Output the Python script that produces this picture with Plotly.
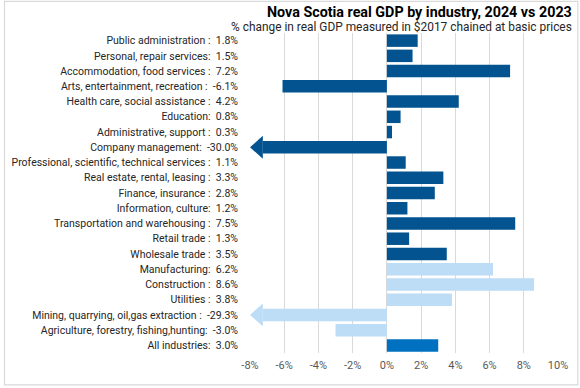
import plotly.graph_objects as go

# ---- data ----
industries = [
    "Public administration ", "Personal, repair services", "Accommodation, food services ",
    "Arts, entertainment, recreation ", "Health care, social assistance ", "Education",
    "Administrative, support ", "Company management", "Professional, scientific, technical services ",
    "Real estate, rental, leasing ", "Finance, insurance ", "Information, culture",
    "Transportation and warehousing ", "Retail trade ", "Wholesale trade ", "Manufacturing",
    "Construction ", "Utilities ", "Mining, quarrying, oil,gas extraction ",
    "Agriculture, forestry, fishing,hunting", "All industries",
]
pct_change = [1.8, 1.5, 7.2, -6.1, 4.2, 0.8, 0.3, -30.0, 1.1, 3.3, 2.8, 1.2, 7.5, 1.3, 3.5,
              6.2, 8.6, 3.8, -29.3, -3.0, 3.0]
sector = ["services"] * 15 + ["goods"] * 5 + ["total"]
x_ticks = [-8, -6, -4, -2, 0, 2, 4, 6, 8, 10]

# ---- style ----
COLORS = {"services": "#02538F", "goods": "#BDDCF6", "total": "#0070C0"}
XMIN, XMAX = x_ticks[0], x_ticks[-1]
HEAD_LEN = 0.75      # arrow head length in % units for off-scale bars
HEAD_HALF = 0.75     # arrow head half height in row units

W, H = 580, 388
L, R, T, B = 248.5, 21, 32.7, 34.9
PW, PH = W - L - R, H - T - B


def px_x(px):
    return (px - L) / PW


def px_y(py):
    return (H - B - py) / PH


n = len(industries)
idx = list(range(n))
labels = [f"{name}:  {v:.1f}%" for name, v in zip(industries, pct_change)]
shaft = [v if v >= XMIN else XMIN + HEAD_LEN for v in pct_change]
colors = [COLORS[s] for s in sector]

fig = go.Figure()
fig.add_trace(go.Bar(
    x=shaft, y=idx, orientation="h",
    marker=dict(color=colors, line=dict(width=0)),
    width=0.82, hoverinfo="skip",
))

shapes = []
for i, (v, c) in enumerate(zip(pct_change, colors)):
    if v < XMIN:
        xb = XMIN + HEAD_LEN
        shapes.append(dict(
            type="path", xref="x", yref="y", layer="above",
            path=f"M {xb},{i - HEAD_HALF} L {XMIN},{i} L {xb},{i + HEAD_HALF} Z",
            fillcolor=c, line=dict(width=0),
        ))

# outer border
shapes.append(dict(type="rect", xref="paper", yref="paper",
                   x0=px_x(1), x1=px_x(579), y0=px_y(385), y1=px_y(1),
                   line=dict(color="#D9D9D9", width=1.2), fillcolor="rgba(0,0,0,0)",
                   layer="below"))

fig.update_layout(
    width=W, height=H,
    margin=dict(l=L, r=R, t=T, b=B, pad=0),
    paper_bgcolor="white", plot_bgcolor="white",
    showlegend=False,
    font=dict(family="Roboto, Arial, sans-serif", color="#262626"),
    shapes=shapes,
    xaxis=dict(
        range=[XMIN, XMAX], tickvals=x_ticks, ticktext=[f"{t}%" for t in x_ticks],
        showgrid=True, gridcolor="#D9D9D9", gridwidth=1,
        zeroline=True, zerolinecolor="#D9D9D9", zerolinewidth=1,
        showline=False, ticks="", tickfont=dict(size=11, color="#595959"),
        ticklabelstandoff=4, fixedrange=True,
    ),
    yaxis=dict(
        range=[n - 0.5, -0.5], tickvals=idx, ticktext=labels,
        showgrid=False, zeroline=False, showline=False, ticks="",
        tickfont=dict(size=10.5, color="#262626"), ticklabelstandoff=11,
        fixedrange=True,
    ),
    annotations=[
        dict(text="<b>Nova Scotia real GDP by industry, 2024 vs 2023</b>",
             xref="paper", yref="paper", x=px_x(575), y=px_y(12),
             xanchor="right", yanchor="middle", showarrow=False,
             font=dict(size=14.3, color="#000000")),
        dict(text="% change in real GDP measured in $2017 chained at basic prices",
             xref="paper", yref="paper", x=px_x(575), y=px_y(27),
             xanchor="right", yanchor="middle", showarrow=False,
             font=dict(size=11.9, color="#262626")),
    ],
)

fig.write_html("out.html", config={"displayModeBar": False},
               post_script="document.body.style.margin='0px';")
